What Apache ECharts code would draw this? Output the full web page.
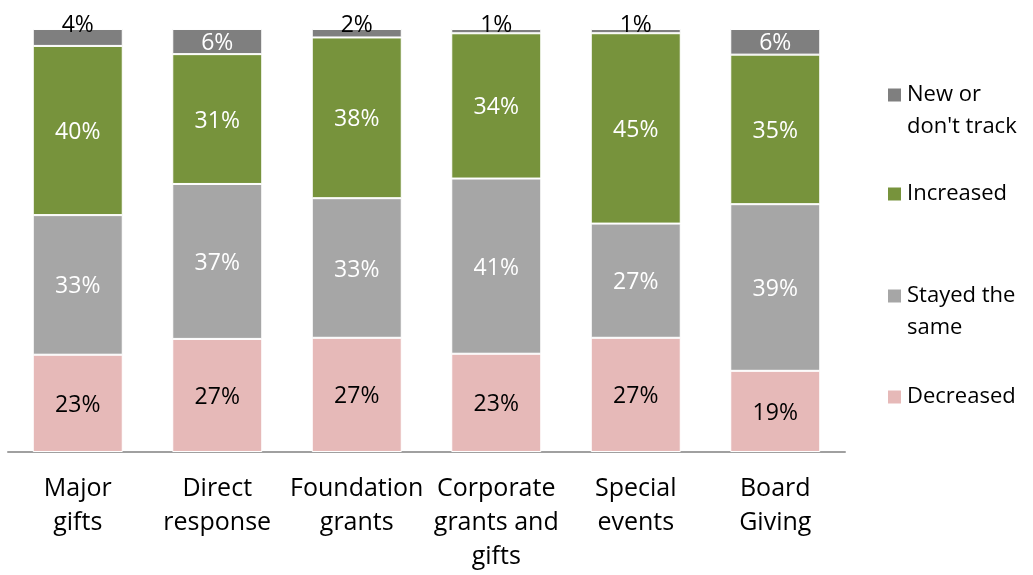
<!DOCTYPE html>
<html>
<head>
<meta charset="utf-8">
<script src="https://cdn.jsdelivr.net/npm/echarts@6/dist/echarts.min.js"></script>
<style>html,body{margin:0;padding:0;background:#fff;}#c{width:1033px;height:575px;}</style>
</head>
<body>
<div id="c"></div>
<script>
const categories = ['Major\ngifts', 'Direct\nresponse', 'Foundation\ngrants', 'Corporate\ngrants and\ngifts', 'Special\nevents', 'Board\nGiving'];
const decreased = [23, 27, 27, 23, 27, 19];
const stayed = [33, 37, 33, 41, 27, 39];
const increased = [40, 31, 38, 34, 45, 35];
const newOrNot = [4, 6, 2, 1, 1, 6];
const seriesNames = ['Decreased', 'Stayed the same', 'Increased', "New or don't track"];
const colors = ['#e6b9b8', '#a6a6a6', '#77933c', '#7f7f7f'];

const FONT = 'Open Sans';
const chart = echarts.init(document.getElementById('c'), null, {renderer: 'canvas'});

// 100% stacked: each column is scaled to its own total
const totals = categories.map((_, i) => decreased[i] + stayed[i] + increased[i] + newOrNot[i]);

function mk(name, data, color, labelColor) {
  return {
    name: name,
    type: 'bar',
    stack: 'all',
    barWidth: 90,
    itemStyle: {color: color, borderColor: '#ffffff', borderWidth: 1},
    label: {
      show: true,
      position: 'inside',
      offset: [0, 2],
      formatter: p => data[p.dataIndex] + '%',
      color: labelColor,
      fontFamily: FONT,
      fontSize: 23,
      lineHeight: 24
    },
    data: data.map((v, i) => {
      const h = v / totals[i] * 100;
      if (v < 5) {
        return {value: h, label: {position: 'top', distance: -6, color: '#000'}};
      }
      return h;
    })
  };
}

function legendItem(name, top, formatted) {
  return {
    data: [name],
    orient: 'vertical',
    left: 886,
    top: top,
    padding: 0,
    itemWidth: 15,
    itemHeight: 15,
    itemGap: 0,
    selectedMode: false,
    icon: 'rect',
    formatter: () => formatted,
    textStyle: {
      fontFamily: FONT,
      fontSize: 22,
      lineHeight: 32,
      color: '#000'
    }
  };
}

chart.setOption({
  animation: false,
  backgroundColor: '#ffffff',
  grid: {left: 8, right: 188, top: 29, bottom: 123, containLabel: false},
  legend: [
    legendItem(seriesNames[3], 47, "\nNew or\ndon't track"),
    legendItem(seriesNames[2], 178, 'Increased'),
    legendItem(seriesNames[1], 248, '\nStayed the\nsame'),
    legendItem(seriesNames[0], 381, 'Decreased')
  ],
  xAxis: {
    type: 'category',
    data: categories,
    axisLine: {show: true, lineStyle: {color: '#a0a0a0', width: 2}},
    axisTick: {show: false},
    axisLabel: {
      interval: 0,
      margin: 20,
      fontFamily: FONT,
      fontSize: 25,
      lineHeight: 34,
      color: '#000'
    }
  },
  yAxis: {
    type: 'value',
    min: 0,
    max: 100,
    show: false,
    splitLine: {show: false}
  },
  series: [
    mk(seriesNames[0], decreased, colors[0], '#000'),
    mk(seriesNames[1], stayed, colors[1], '#fff'),
    mk(seriesNames[2], increased, colors[2], '#fff'),
    mk(seriesNames[3], newOrNot, colors[3], '#fff')
  ]
});
</script>
</body>
</html>
